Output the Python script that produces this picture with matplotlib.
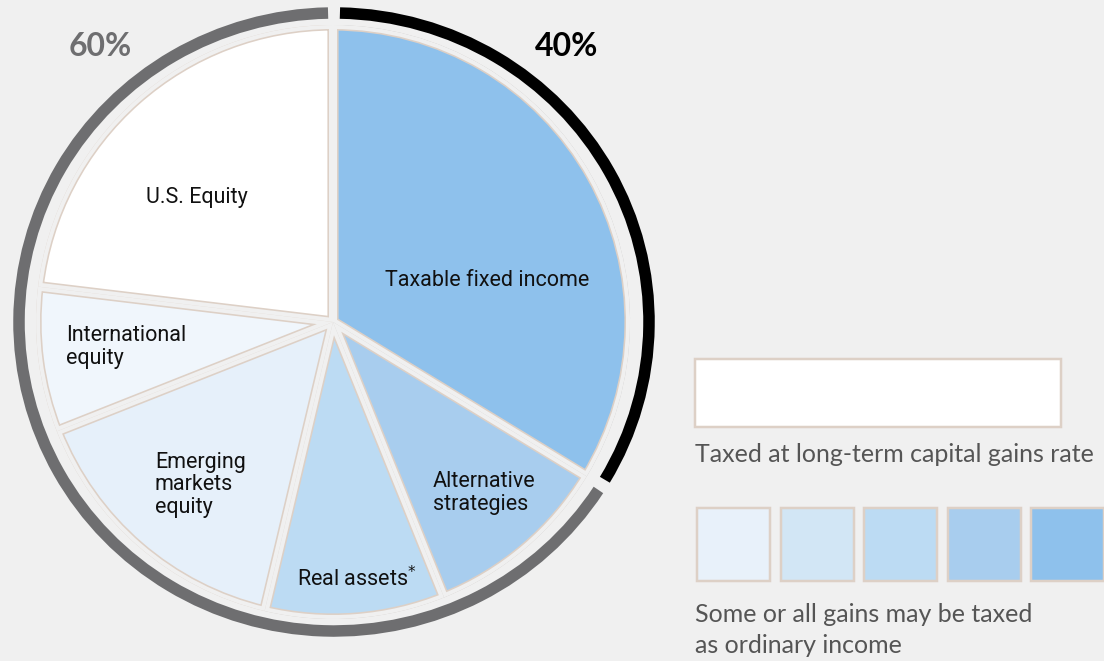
import matplotlib
matplotlib.use("Agg")
import matplotlib.pyplot as plt
from matplotlib.patches import Wedge, Arc, Rectangle

# ---------------- data ----------------
categories = ["Taxable fixed income", "Alternative\nstrategies", "Real assets",
              "Emerging\nmarkets\nequity", "International\nequity", "U.S. Equity"]
shares = [33.7, 10.2, 9.8, 15.3, 7.9, 23.1]          # percent of pie
wedge_colors = ["#8ec1ec", "#a8cdee", "#bcdbf3", "#e6f0fa", "#f0f6fc", "#ffffff"]
ring_labels = ["40%", "60%"]
legend_colors = ["#e8f1fa", "#d2e6f5", "#bcdbf3", "#a8cdee", "#8ec1ec"]
legend_text_1 = "Taxed at long-term capital gains rate"
legend_text_2 = "Some or all gains may be taxed\nas ordinary income"

BG = "#f0f0f0"
BEIGE = "#ddd0c6"
GRAY = "#6e6e70"

W, H = 1104, 661
fig = plt.figure(figsize=(W / 100, H / 100), dpi=100, facecolor=BG)
ax = fig.add_axes([0, 0, 1, 1])
ax.set_xlim(0, W)
ax.set_ylim(0, H)
ax.set_facecolor(BG)
ax.axis("off")

def Y(y):
    return H - y

px = 0.72  # points per pixel at dpi 100
cx, cy = 333, Y(322)
R = 297
gap_px = 8
border_px = 1.6

# wedges, clockwise from 12 o'clock
start = 90.0
angles = []
for s in shares:
    end = start - s * 3.6
    angles.append((end, start))
    start = end

for (t1, t2), col in zip(angles, wedge_colors):
    clip = Wedge((cx, cy), R, t1, t2, transform=ax.transData)
    w = Wedge((cx, cy), R, t1, t2, facecolor=col,
              edgecolor=BEIGE, linewidth=(gap_px + 2 * border_px) * px,
              joinstyle="round")
    ax.add_patch(w)
    w.set_clip_path(clip)
for (t1, t2) in angles:
    clip = Wedge((cx, cy), R, t1, t2, transform=ax.transData)
    w = Wedge((cx, cy), R, t1, t2, facecolor="none",
              edgecolor=BG, linewidth=gap_px * px, joinstyle="round")
    ax.add_patch(w)
    w.set_clip_path(clip)

# outer ring: bond share (black) vs. rest (gray)
split = angles[0][0]
half_gap = 1.1
rw, rh = 2 * 315, 2 * 309
ring_lw = 11.5 * px
ax.add_patch(Arc((cx + 1, cy), rw, rh, theta1=split + half_gap, theta2=90 - half_gap,
                 color="black", linewidth=ring_lw, capstyle="butt"))
ax.add_patch(Arc((cx + 1, cy), rw, rh, theta1=90 + half_gap, theta2=360 + split - half_gap,
                 color=GRAY, linewidth=ring_lw, capstyle="butt"))

ax.text(567, Y(47), ring_labels[0], fontsize=23, fontweight="bold", family="Lato",
        color="black", ha="center", va="center")
ax.text(100, Y(47), ring_labels[1], fontsize=23, fontweight="bold", family="Lato",
        color=GRAY, ha="center", va="center")

# wedge labels
lab_font = dict(fontsize=15.5, family="Roboto", color="#111111", linespacing=1.08)
ax.text(487, Y(281), categories[0], ha="center", va="center", **lab_font)
ax.text(433, Y(493), categories[1], ha="left", va="center", **lab_font)
ax.text(357, Y(579), categories[2] + r"$^{*}$", ha="center", va="center", **lab_font)
ax.text(155, Y(485), categories[3], ha="left", va="center", **lab_font)
ax.text(66, Y(347), categories[4], ha="left", va="center", **lab_font)
ax.text(197, Y(197), categories[5], ha="center", va="center", **lab_font)

# legend
ax.add_patch(Rectangle((695, Y(427)), 366, 68, facecolor="white",
                       edgecolor=BEIGE, linewidth=2.5 * px))
ax.text(695, Y(455), legend_text_1, fontsize=18, family="Lato", color="#555555",
        ha="left", va="center")
sq_x0, sq_step, sq_w = 697, 83.5, 73
for i, c in enumerate(legend_colors):
    ax.add_patch(Rectangle((sq_x0 + i * sq_step, Y(581)), sq_w, 73, facecolor=c,
                           edgecolor=BEIGE, linewidth=2.5 * px, clip_on=False))
ax.text(695, Y(630), legend_text_2, fontsize=18, family="Lato", color="#555555",
        ha="left", va="center", linespacing=1.4)

fig.savefig("out.png", dpi=100, facecolor=BG)
